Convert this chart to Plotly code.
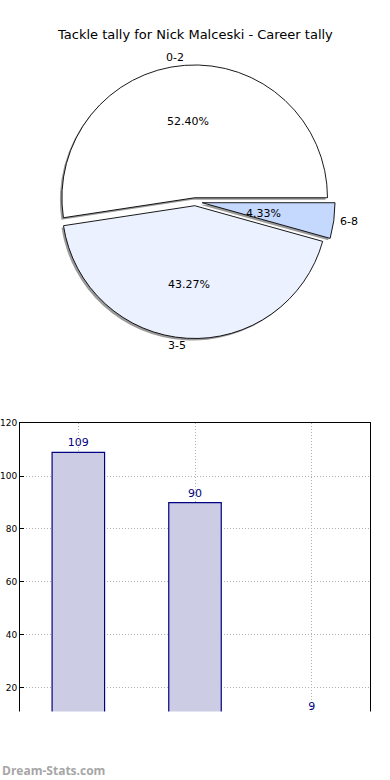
import plotly.graph_objects as go

categories = ["0-2", "3-5", "6-8"]
tally = [109, 90, 9]
pie_colors = ["#ffffff", "#ebf1fe", "#c5d8fe"]
pull = [0.03, 0.03, 0.055]
y_ticks = [20, 40, 60, 80, 100, 120]

W, H = 390, 780
total = sum(tally)
pct_text = [f"{v / total * 100:.2f}%" for v in tally]
# first slice starts at 3 o'clock and runs counter-clockwise
rot = 90 - 360 * tally[0] / total

def px(x):
    return x / W

def py(y):
    return 1 - y / H

font = "DejaVu Sans"
fig = go.Figure()

# pie geometry (pixels)
cx, cy, side = 195, 198, 282
def dom(dx=0, dy=0):
    return dict(x=[px(cx - side / 2 + dx), px(cx + side / 2 + dx)],
                y=[py(cy + side / 2 + dy), py(cy - side / 2 + dy)])

# shadow
fig.add_trace(go.Pie(
    labels=categories, values=tally, sort=False, direction="counterclockwise",
    rotation=rot, pull=pull, textinfo="none", hoverinfo="skip",
    marker=dict(colors=["#9a9a9a"] * 3, line=dict(width=0)),
    domain=dom(-2, 2), showlegend=False))
# pie
fig.add_trace(go.Pie(
    labels=categories, values=tally, sort=False, direction="counterclockwise",
    rotation=rot, pull=pull, textinfo="none",
    marker=dict(colors=pie_colors, line=dict(color="#000000", width=0.9)),
    domain=dom(), showlegend=False))

# bars
fig.add_trace(go.Bar(
    x=categories, y=tally, width=0.45,
    marker=dict(color="#cccce4", line=dict(color="#000080", width=1.2)),
    text=[str(v) for v in tally], textposition="outside",
    textfont=dict(color="#000080", size=11, family=font),
    cliponaxis=False, showlegend=False, xaxis="x", yaxis="y"))

annotations = []
# title
annotations.append(dict(x=0.5, y=py(30), xref="paper", yref="paper", yanchor="middle",
                        text="Tackle tally for Nick Malceski - Career tally",
                        showarrow=False, font=dict(size=13, color="#000", family=font)))
label_pos = [(175, 53), (177, 343), (360, 218)]
pct_pos = [(188, 117), (189, 281), (283, 210)]
for lab, (x, y) in zip(categories, label_pos):
    annotations.append(dict(x=px(x), y=py(y), xref="paper", yref="paper", yanchor="middle",
                            text=lab, showarrow=False,
                            font=dict(size=11, color="#000", family=font)))
for t, (x, y) in zip(pct_text, pct_pos):
    annotations.append(dict(x=px(x), y=py(y), xref="paper", yref="paper", yanchor="middle",
                            text=t, showarrow=False,
                            font=dict(size=11, color="#000", family=font)))
annotations.append(dict(x=0, y=py(770), xref="paper", yref="paper", xanchor="left",
                        yanchor="middle", text="<b>Dream-Stats.com</b>", showarrow=False,
                        font=dict(size=12, color="#a6a6a6", family="Open Sans")))

shapes = [dict(type="rect", xref="paper", yref="paper", x0=0, x1=1,
               y0=0, y1=py(711), fillcolor="#ffffff", line=dict(width=0), layer="above")]

fig.update_layout(
    width=W, height=H, margin=dict(l=0, r=0, t=0, b=0),
    paper_bgcolor="#ffffff", plot_bgcolor="#ffffff",
    font=dict(family=font),
    xaxis=dict(domain=[px(20), px(370)], range=[-0.5, 2.5], showticklabels=False,
               showgrid=True, gridcolor="#b0b0b0", griddash="1px,2px", gridwidth=1,
               showline=True, linecolor="#000", linewidth=1, mirror=True,
               zeroline=False, fixedrange=True),
    yaxis=dict(domain=[py(740), py(421)], range=[0, 120], tickvals=y_ticks,
               showgrid=True, gridcolor="#b0b0b0", griddash="1px,2px", gridwidth=1,
               showline=True, linecolor="#000", linewidth=1, mirror=True,
               ticks="inside", ticklen=4, tickcolor="#000",
               tickfont=dict(size=9, color="#000", family=font),
               zeroline=False, fixedrange=True),
    annotations=annotations, shapes=shapes,
)
fig.write_html("out.html", config={"displayModeBar": False},
               post_script="document.body.style.margin='0';")
